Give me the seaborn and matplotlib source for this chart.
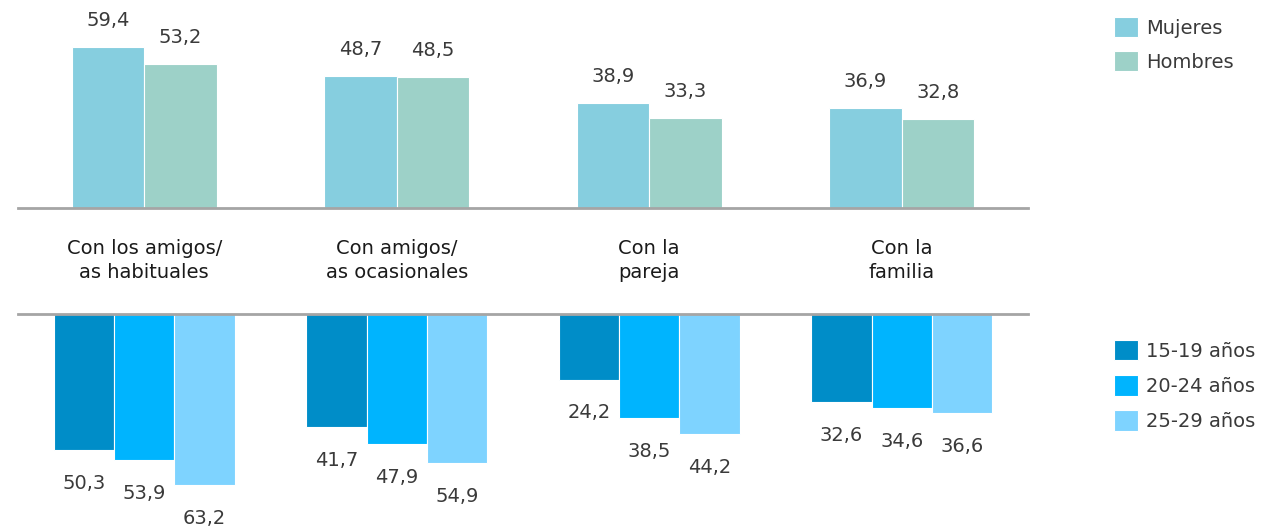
import matplotlib
matplotlib.use("Agg")
import matplotlib.pyplot as plt
import matplotlib.transforms as mtransforms
import pandas as pd
import seaborn as sns

categorias = ["Con los amigos/\nas habituales", "Con amigos/\nas ocasionales",
              "Con la\npareja", "Con la\nfamilia"]
sexos = ["Mujeres", "Hombres"]
mujeres = [59.4, 48.7, 38.9, 36.9]
hombres = [53.2, 48.5, 33.3, 32.8]
edades = ["15-19 años", "20-24 años", "25-29 años"]
edad_15_19 = [50.3, 41.7, 24.2, 32.6]
edad_20_24 = [53.9, 47.9, 38.5, 34.6]
edad_25_29 = [63.2, 54.9, 44.2, 36.6]

col_sexo = ["#86CEDF", "#9DD1C8"]
col_edad = ["#008DC8", "#00B4FE", "#7ED3FF"]

df_sexo = pd.DataFrame({
    "cat": categorias * 2,
    "grupo": [sexos[0]] * 4 + [sexos[1]] * 4,
    "val": mujeres + hombres,
})
df_edad = pd.DataFrame({
    "cat": categorias * 3,
    "grupo": [edades[0]] * 4 + [edades[1]] * 4 + [edades[2]] * 4,
    "val": edad_15_19 + edad_20_24 + edad_25_29,
})

sns.set_theme(style="white")
plt.rcParams["font.family"] = ["DejaVu Sans"]
FS = 14

W, H = 1264, 528
fig = plt.figure(figsize=(W / 100, H / 100), dpi=100)
px = 2.71  # pixels per unit
x0, x1 = 18 / W, 1028 / W
ax_top = fig.add_axes([x0, 1 - 208 / H, x1 - x0, 208 / H])
ax_bot = fig.add_axes([x0, 0, x1 - x0, (H - 314) / H])

sns.barplot(data=df_sexo, x="cat", y="val", hue="grupo", order=categorias,
            hue_order=sexos, palette=col_sexo, saturation=1, width=0.574,
            edgecolor="white", linewidth=0.8, ax=ax_top)
sns.barplot(data=df_edad, x="cat", y="val", hue="grupo", order=categorias,
            hue_order=edades, palette=col_edad, saturation=1, width=0.717,
            edgecolor="white", linewidth=0.8, ax=ax_bot)

ax_top.set_ylim(0, 208 / px)
ax_bot.set_ylim((H - 314) / px, 0)

for ax, spine in [(ax_top, "bottom"), (ax_bot, "top")]:
    ax.set_xlim(-0.5, 3.5)
    for s in ax.spines.values():
        s.set_visible(False)
    ax.spines[spine].set_visible(True)
    ax.spines[spine].set_color("#A5A5A5")
    ax.spines[spine].set_linewidth(2)
    ax.set_xticks([])
    ax.set_yticks([])
    ax.set_xlabel("")
    ax.set_ylabel("")
    ax.set_facecolor("none")

# value labels
for ax, off in [(ax_top, 19.0), (ax_bot, -24.0)]:
    for cont in ax.containers:
        for p in cont:
            v = p.get_height()
            ax.annotate(f"{v:.1f}".replace(".", ","),
                        (p.get_x() + p.get_width() / 2, v),
                        xytext=(0, off), textcoords="offset points",
                        ha="center", va="center", fontsize=FS, color="#3A3A3A")

# category labels between panels
trans = mtransforms.blended_transform_factory(ax_top.transData, fig.transFigure)
for i, c in enumerate(categorias):
    fig.text(i, 1 - 260.5 / H, c, transform=trans, ha="center", va="center",
             fontsize=FS, color="#1A1A1A", linespacing=1.35)

# legends
for ax, top_px, sp in [(ax_top, 9, 0.68), (ax_bot, 332, 0.74)]:
    h, l = ax.get_legend_handles_labels()
    ax.legend_.remove()
    fig.legend(h, l, loc="upper left", bbox_to_anchor=(1106 / W, 1 - top_px / H),
               frameon=False, fontsize=FS, handlelength=1.25, handleheight=1.25,
               handletextpad=0.4, labelspacing=sp, borderaxespad=0,
               labelcolor="#3A3A3A")

fig.savefig("out.png", dpi=100)
